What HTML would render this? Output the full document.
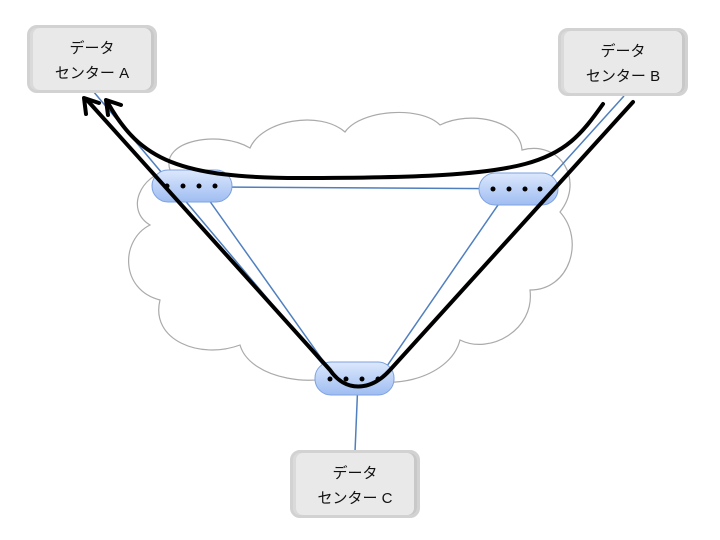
<!DOCTYPE html>
<html><head><meta charset="utf-8"><style>
body{margin:0;background:#fff;width:720px;height:540px;overflow:hidden}
.box{position:absolute;width:130px;height:68px;background:#e9e9e9;border:3px solid #d2d2d2;border-radius:10px;box-sizing:border-box;font-family:"Liberation Sans","Noto Sans CJK JP",sans-serif;font-size:15px;line-height:25px;text-align:center;padding-top:8px;color:#111;box-shadow:inset -3px 0 0 #c8c8c8,inset 3px 0 0 #dadada}
</style></head><body>
<svg width="720" height="540" style="position:absolute;left:0;top:0">
<defs><linearGradient id="g" x1="0" y1="0" x2="0" y2="1"><stop offset="0" stop-color="#dce8fc"/><stop offset="1" stop-color="#9fbdf2"/></linearGradient></defs>
<g fill="#fff" stroke="#aaa" stroke-width="1.2">
<path d="M170,170 C160,140 220,130 250,148 C262,120 320,110 345,132 C360,110 420,105 440,125 C470,110 520,120 522,150 C560,140 585,180 560,212 C585,240 570,290 530,290 C535,330 490,355 460,340 C450,380 380,395 350,370 C320,390 250,380 240,345 C200,360 150,340 160,300 C120,290 120,240 150,225 C125,210 140,175 170,170 Z"/>
</g>
<g stroke="#4f7fbf" stroke-width="1.5" fill="none">
<line x1="93" y1="91" x2="335" y2="379"/>
<line x1="199" y1="186" x2="336" y2="379"/>
<line x1="215" y1="187" x2="540" y2="189"/>
<line x1="624" y1="96" x2="540" y2="189"/>
<line x1="509" y1="189" x2="378" y2="379"/>
<line x1="358" y1="380" x2="355" y2="452"/>
</g>
<g fill="url(#g)" stroke="#7da1e0" stroke-width="1">
<rect x="152" y="170" width="80" height="32" rx="16"/>
<rect x="479" y="173" width="79" height="32" rx="16"/>
<rect x="315" y="362" width="79" height="33" rx="16"/>
</g>
<g fill="#000">
<circle cx="167" cy="186" r="2.5"/><circle cx="183" cy="186" r="2.5"/><circle cx="199" cy="186" r="2.5"/><circle cx="215" cy="186" r="2.5"/>
<circle cx="493" cy="189" r="2.5"/><circle cx="509" cy="189" r="2.5"/><circle cx="525" cy="189" r="2.5"/><circle cx="540" cy="189" r="2.5"/>
<circle cx="330" cy="379" r="2.5"/><circle cx="346" cy="379" r="2.5"/><circle cx="362" cy="379" r="2.5"/><circle cx="378" cy="379" r="2.5"/>
</g>
<g stroke="#000" stroke-width="4" fill="none" stroke-linecap="round" stroke-linejoin="round">
<path d="M603,104 C560,165 540,178 300,178 C180,178 140,160 108,103"/>
<path d="M633,102 L390,370 C370,392 345,392 330,370 L87,100"/>
<path d="M86,114 L84,98 L99,103"/>
<path d="M108,115 L106,100 L121,105"/>
</g>
</svg>
<div class="box" style="left:27px;top:25px">データ<br>センター A</div>
<div class="box" style="left:558px;top:28px">データ<br>センター B</div>
<div class="box" style="left:290px;top:450px">データ<br>センター C</div>
</body></html>
